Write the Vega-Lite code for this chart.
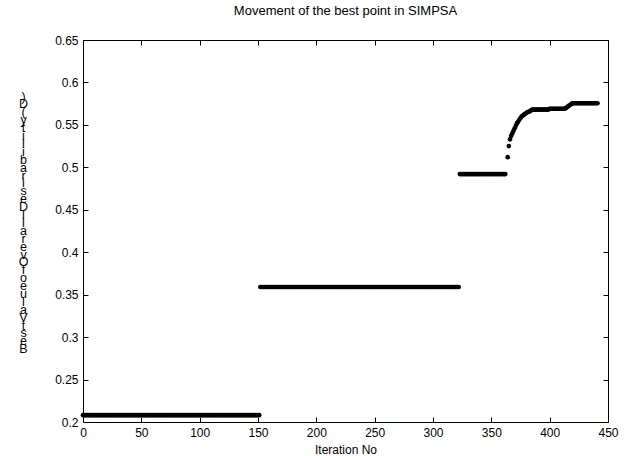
{
"$schema": "https://vega.github.io/schema/vega-lite/v6.json",
"width": 525,
"height": 382,
"autosize": "none",
"padding": {"left": 83, "top": 40, "right": 17, "bottom": 34},
"background": "white",
"title": {"text": "Movement of the best point in SIMPSA", "font": "Liberation Sans", "fontSize": 13, "fontWeight": "normal", "color": "black", "offset": 16},
"config": {"view": {"stroke": null}},
"data": {"values": [
{"it":0,"v":0.208},{"it":1,"v":0.208},{"it":2,"v":0.208},{"it":3,"v":0.208},{"it":4,"v":0.208},{"it":5,"v":0.208},{"it":6,"v":0.208},{"it":7,"v":0.208},{"it":8,"v":0.208},{"it":9,"v":0.208},
{"it":10,"v":0.208},{"it":11,"v":0.208},{"it":12,"v":0.208},{"it":13,"v":0.208},{"it":14,"v":0.208},{"it":15,"v":0.208},{"it":16,"v":0.208},{"it":17,"v":0.208},{"it":18,"v":0.208},{"it":19,"v":0.208},
{"it":20,"v":0.208},{"it":21,"v":0.208},{"it":22,"v":0.208},{"it":23,"v":0.208},{"it":24,"v":0.208},{"it":25,"v":0.208},{"it":26,"v":0.208},{"it":27,"v":0.208},{"it":28,"v":0.208},{"it":29,"v":0.208},
{"it":30,"v":0.208},{"it":31,"v":0.208},{"it":32,"v":0.208},{"it":33,"v":0.208},{"it":34,"v":0.208},{"it":35,"v":0.208},{"it":36,"v":0.208},{"it":37,"v":0.208},{"it":38,"v":0.208},{"it":39,"v":0.208},
{"it":40,"v":0.208},{"it":41,"v":0.208},{"it":42,"v":0.208},{"it":43,"v":0.208},{"it":44,"v":0.208},{"it":45,"v":0.208},{"it":46,"v":0.208},{"it":47,"v":0.208},{"it":48,"v":0.208},{"it":49,"v":0.208},
{"it":50,"v":0.208},{"it":51,"v":0.208},{"it":52,"v":0.208},{"it":53,"v":0.208},{"it":54,"v":0.208},{"it":55,"v":0.208},{"it":56,"v":0.208},{"it":57,"v":0.208},{"it":58,"v":0.208},{"it":59,"v":0.208},
{"it":60,"v":0.208},{"it":61,"v":0.208},{"it":62,"v":0.208},{"it":63,"v":0.208},{"it":64,"v":0.208},{"it":65,"v":0.208},{"it":66,"v":0.208},{"it":67,"v":0.208},{"it":68,"v":0.208},{"it":69,"v":0.208},
{"it":70,"v":0.208},{"it":71,"v":0.208},{"it":72,"v":0.208},{"it":73,"v":0.208},{"it":74,"v":0.208},{"it":75,"v":0.208},{"it":76,"v":0.208},{"it":77,"v":0.208},{"it":78,"v":0.208},{"it":79,"v":0.208},
{"it":80,"v":0.208},{"it":81,"v":0.208},{"it":82,"v":0.208},{"it":83,"v":0.208},{"it":84,"v":0.208},{"it":85,"v":0.208},{"it":86,"v":0.208},{"it":87,"v":0.208},{"it":88,"v":0.208},{"it":89,"v":0.208},
{"it":90,"v":0.208},{"it":91,"v":0.208},{"it":92,"v":0.208},{"it":93,"v":0.208},{"it":94,"v":0.208},{"it":95,"v":0.208},{"it":96,"v":0.208},{"it":97,"v":0.208},{"it":98,"v":0.208},{"it":99,"v":0.208},
{"it":100,"v":0.208},{"it":101,"v":0.208},{"it":102,"v":0.208},{"it":103,"v":0.208},{"it":104,"v":0.208},{"it":105,"v":0.208},{"it":106,"v":0.208},{"it":107,"v":0.208},{"it":108,"v":0.208},{"it":109,"v":0.208},
{"it":110,"v":0.208},{"it":111,"v":0.208},{"it":112,"v":0.208},{"it":113,"v":0.208},{"it":114,"v":0.208},{"it":115,"v":0.208},{"it":116,"v":0.208},{"it":117,"v":0.208},{"it":118,"v":0.208},{"it":119,"v":0.208},
{"it":120,"v":0.208},{"it":121,"v":0.208},{"it":122,"v":0.208},{"it":123,"v":0.208},{"it":124,"v":0.208},{"it":125,"v":0.208},{"it":126,"v":0.208},{"it":127,"v":0.208},{"it":128,"v":0.208},{"it":129,"v":0.208},
{"it":130,"v":0.208},{"it":131,"v":0.208},{"it":132,"v":0.208},{"it":133,"v":0.208},{"it":134,"v":0.208},{"it":135,"v":0.208},{"it":136,"v":0.208},{"it":137,"v":0.208},{"it":138,"v":0.208},{"it":139,"v":0.208},
{"it":140,"v":0.208},{"it":141,"v":0.208},{"it":142,"v":0.208},{"it":143,"v":0.208},{"it":144,"v":0.208},{"it":145,"v":0.208},{"it":146,"v":0.208},{"it":147,"v":0.208},{"it":148,"v":0.208},{"it":149,"v":0.208},
{"it":150,"v":0.208},{"it":151,"v":0.208},
{"it":152,"v":0.359},{"it":153,"v":0.359},{"it":154,"v":0.359},{"it":155,"v":0.359},{"it":156,"v":0.359},{"it":157,"v":0.359},{"it":158,"v":0.359},{"it":159,"v":0.359},
{"it":160,"v":0.359},{"it":161,"v":0.359},{"it":162,"v":0.359},{"it":163,"v":0.359},{"it":164,"v":0.359},{"it":165,"v":0.359},{"it":166,"v":0.359},{"it":167,"v":0.359},{"it":168,"v":0.359},{"it":169,"v":0.359},
{"it":170,"v":0.359},{"it":171,"v":0.359},{"it":172,"v":0.359},{"it":173,"v":0.359},{"it":174,"v":0.359},{"it":175,"v":0.359},{"it":176,"v":0.359},{"it":177,"v":0.359},{"it":178,"v":0.359},{"it":179,"v":0.359},
{"it":180,"v":0.359},{"it":181,"v":0.359},{"it":182,"v":0.359},{"it":183,"v":0.359},{"it":184,"v":0.359},{"it":185,"v":0.359},{"it":186,"v":0.359},{"it":187,"v":0.359},{"it":188,"v":0.359},{"it":189,"v":0.359},
{"it":190,"v":0.359},{"it":191,"v":0.359},{"it":192,"v":0.359},{"it":193,"v":0.359},{"it":194,"v":0.359},{"it":195,"v":0.359},{"it":196,"v":0.359},{"it":197,"v":0.359},{"it":198,"v":0.359},{"it":199,"v":0.359},
{"it":200,"v":0.359},{"it":201,"v":0.359},{"it":202,"v":0.359},{"it":203,"v":0.359},{"it":204,"v":0.359},{"it":205,"v":0.359},{"it":206,"v":0.359},{"it":207,"v":0.359},{"it":208,"v":0.359},{"it":209,"v":0.359},
{"it":210,"v":0.359},{"it":211,"v":0.359},{"it":212,"v":0.359},{"it":213,"v":0.359},{"it":214,"v":0.359},{"it":215,"v":0.359},{"it":216,"v":0.359},{"it":217,"v":0.359},{"it":218,"v":0.359},{"it":219,"v":0.359},
{"it":220,"v":0.359},{"it":221,"v":0.359},{"it":222,"v":0.359},{"it":223,"v":0.359},{"it":224,"v":0.359},{"it":225,"v":0.359},{"it":226,"v":0.359},{"it":227,"v":0.359},{"it":228,"v":0.359},{"it":229,"v":0.359},
{"it":230,"v":0.359},{"it":231,"v":0.359},{"it":232,"v":0.359},{"it":233,"v":0.359},{"it":234,"v":0.359},{"it":235,"v":0.359},{"it":236,"v":0.359},{"it":237,"v":0.359},{"it":238,"v":0.359},{"it":239,"v":0.359},
{"it":240,"v":0.359},{"it":241,"v":0.359},{"it":242,"v":0.359},{"it":243,"v":0.359},{"it":244,"v":0.359},{"it":245,"v":0.359},{"it":246,"v":0.359},{"it":247,"v":0.359},{"it":248,"v":0.359},{"it":249,"v":0.359},
{"it":250,"v":0.359},{"it":251,"v":0.359},{"it":252,"v":0.359},{"it":253,"v":0.359},{"it":254,"v":0.359},{"it":255,"v":0.359},{"it":256,"v":0.359},{"it":257,"v":0.359},{"it":258,"v":0.359},{"it":259,"v":0.359},
{"it":260,"v":0.359},{"it":261,"v":0.359},{"it":262,"v":0.359},{"it":263,"v":0.359},{"it":264,"v":0.359},{"it":265,"v":0.359},{"it":266,"v":0.359},{"it":267,"v":0.359},{"it":268,"v":0.359},{"it":269,"v":0.359},
{"it":270,"v":0.359},{"it":271,"v":0.359},{"it":272,"v":0.359},{"it":273,"v":0.359},{"it":274,"v":0.359},{"it":275,"v":0.359},{"it":276,"v":0.359},{"it":277,"v":0.359},{"it":278,"v":0.359},{"it":279,"v":0.359},
{"it":280,"v":0.359},{"it":281,"v":0.359},{"it":282,"v":0.359},{"it":283,"v":0.359},{"it":284,"v":0.359},{"it":285,"v":0.359},{"it":286,"v":0.359},{"it":287,"v":0.359},{"it":288,"v":0.359},{"it":289,"v":0.359},
{"it":290,"v":0.359},{"it":291,"v":0.359},{"it":292,"v":0.359},{"it":293,"v":0.359},{"it":294,"v":0.359},{"it":295,"v":0.359},{"it":296,"v":0.359},{"it":297,"v":0.359},{"it":298,"v":0.359},{"it":299,"v":0.359},
{"it":300,"v":0.359},{"it":301,"v":0.359},{"it":302,"v":0.359},{"it":303,"v":0.359},{"it":304,"v":0.359},{"it":305,"v":0.359},{"it":306,"v":0.359},{"it":307,"v":0.359},{"it":308,"v":0.359},{"it":309,"v":0.359},
{"it":310,"v":0.359},{"it":311,"v":0.359},{"it":312,"v":0.359},{"it":313,"v":0.359},{"it":314,"v":0.359},{"it":315,"v":0.359},{"it":316,"v":0.359},{"it":317,"v":0.359},{"it":318,"v":0.359},{"it":319,"v":0.359},
{"it":320,"v":0.359},{"it":321,"v":0.359},{"it":322,"v":0.359},
{"it":323,"v":0.492},{"it":324,"v":0.492},{"it":325,"v":0.492},{"it":326,"v":0.492},{"it":327,"v":0.492},{"it":328,"v":0.492},{"it":329,"v":0.492},
{"it":330,"v":0.492},{"it":331,"v":0.492},{"it":332,"v":0.492},{"it":333,"v":0.492},{"it":334,"v":0.492},{"it":335,"v":0.492},{"it":336,"v":0.492},{"it":337,"v":0.492},{"it":338,"v":0.492},{"it":339,"v":0.492},
{"it":340,"v":0.492},{"it":341,"v":0.492},{"it":342,"v":0.492},{"it":343,"v":0.492},{"it":344,"v":0.492},{"it":345,"v":0.492},{"it":346,"v":0.492},{"it":347,"v":0.492},{"it":348,"v":0.492},{"it":349,"v":0.492},
{"it":350,"v":0.492},{"it":351,"v":0.492},{"it":352,"v":0.492},{"it":353,"v":0.492},{"it":354,"v":0.492},{"it":355,"v":0.492},{"it":356,"v":0.492},{"it":357,"v":0.492},{"it":358,"v":0.492},{"it":359,"v":0.492},
{"it":360,"v":0.492},{"it":361,"v":0.492},{"it":362,"v":0.492},
{"it":364,"v":0.512},{"it":365,"v":0.525},{"it":366,"v":0.533},{"it":367,"v":0.537},{"it":368,"v":0.540},{"it":369,"v":0.543},
{"it":370,"v":0.546},{"it":371,"v":0.549},{"it":372,"v":0.552},{"it":373,"v":0.554},{"it":374,"v":0.556},{"it":375,"v":0.558},{"it":376,"v":0.560},{"it":377,"v":0.561},{"it":378,"v":0.562},{"it":379,"v":0.563},
{"it":380,"v":0.564},{"it":381,"v":0.565},{"it":382,"v":0.5655},{"it":383,"v":0.566},{"it":384,"v":0.567},{"it":385,"v":0.568},{"it":386,"v":0.568},{"it":387,"v":0.568},{"it":388,"v":0.568},{"it":389,"v":0.568},
{"it":390,"v":0.568},{"it":391,"v":0.568},{"it":392,"v":0.568},{"it":393,"v":0.568},{"it":394,"v":0.568},{"it":395,"v":0.568},{"it":396,"v":0.568},{"it":397,"v":0.568},{"it":398,"v":0.568},{"it":399,"v":0.568},
{"it":400,"v":0.569},{"it":401,"v":0.569},{"it":402,"v":0.569},{"it":403,"v":0.569},{"it":404,"v":0.569},{"it":405,"v":0.569},{"it":406,"v":0.569},{"it":407,"v":0.569},{"it":408,"v":0.569},{"it":409,"v":0.569},
{"it":410,"v":0.569},{"it":411,"v":0.569},{"it":412,"v":0.569},{"it":413,"v":0.569},{"it":414,"v":0.570},{"it":415,"v":0.571},{"it":416,"v":0.572},{"it":417,"v":0.573},{"it":418,"v":0.574},{"it":419,"v":0.575},
{"it":420,"v":0.5755},{"it":421,"v":0.5755},{"it":422,"v":0.5755},{"it":423,"v":0.5755},{"it":424,"v":0.5755},{"it":425,"v":0.5755},{"it":426,"v":0.5755},{"it":427,"v":0.5755},{"it":428,"v":0.5755},{"it":429,"v":0.5755},
{"it":430,"v":0.5755},{"it":431,"v":0.5755},{"it":432,"v":0.5755},{"it":433,"v":0.5755},{"it":434,"v":0.5755},{"it":435,"v":0.5755},{"it":436,"v":0.5755},{"it":437,"v":0.5755},{"it":438,"v":0.5755},{"it":439,"v":0.5755},
{"it":440,"v":0.5755},{"it":441,"v":0.5755}
]},
"layer": [
{
"mark": {"type": "point", "filled": true, "shape": "circle", "size": 22, "color": "black", "opacity": 1},
"encoding": {
"x": {"field": "it", "type": "quantitative", "scale": {"domain": [0, 450], "nice": false, "zero": false},
"axis": {"orient": "bottom", "values": [0,50,100,150,200,250,300,350,400,450], "grid": false, "tickSize": -5, "domainColor": "black", "tickColor": "black", "labelColor": "black", "labelFont": "Liberation Sans", "labelFontSize": 12, "labelPadding": 10, "labelFlush": false, "title": "Iteration No", "titleFont": "Liberation Sans", "titleFontSize": 12, "titleFontWeight": "normal", "titleColor": "black", "titlePadding": 6}},
"y": {"field": "v", "type": "quantitative", "scale": {"domain": [0.2, 0.65], "nice": false, "zero": false},
"axis": {"orient": "left", "values": [0.2,0.25,0.3,0.35,0.4,0.45,0.5,0.55,0.6,0.65], "format": "~g", "grid": false, "tickSize": -5, "domainColor": "black", "tickColor": "black", "labelColor": "black", "labelFont": "Liberation Sans", "labelFontSize": 12, "labelPadding": 10, "labelFlush": false,
"title": [")","D","("," ","y","t","i","l","i","b","a","r","i","s","e","D"," ","l","l","a","r","e","v","O"," ","f","o"," ","e","u","l","a","V"," ","t","s","e","B"],
"titleAngle": 0, "titleFont": "Liberation Sans", "titleFontSize": 12.5, "titleFontWeight": "normal", "titleColor": "black", "titleLineHeight": 7.9, "titleAlign": "center", "titleBaseline": "top", "titleX": -60, "titleY": 50}}
}
},
{
"mark": {"type": "point", "opacity": 0},
"encoding": {
"x": {"field": "it", "type": "quantitative", "axis": {"orient": "top", "values": [0,50,100,150,200,250,300,350,400,450], "grid": false, "labels": false, "tickSize": -5, "domainColor": "black", "tickColor": "black", "title": null}},
"y": {"field": "v", "type": "quantitative", "axis": {"orient": "right", "values": [0.2,0.25,0.3,0.35,0.4,0.45,0.5,0.55,0.6,0.65], "grid": false, "labels": false, "tickSize": -5, "domainColor": "black", "tickColor": "black", "title": null}}
}
}
],
"resolve": {"axis": {"x": "independent", "y": "independent"}}
}
